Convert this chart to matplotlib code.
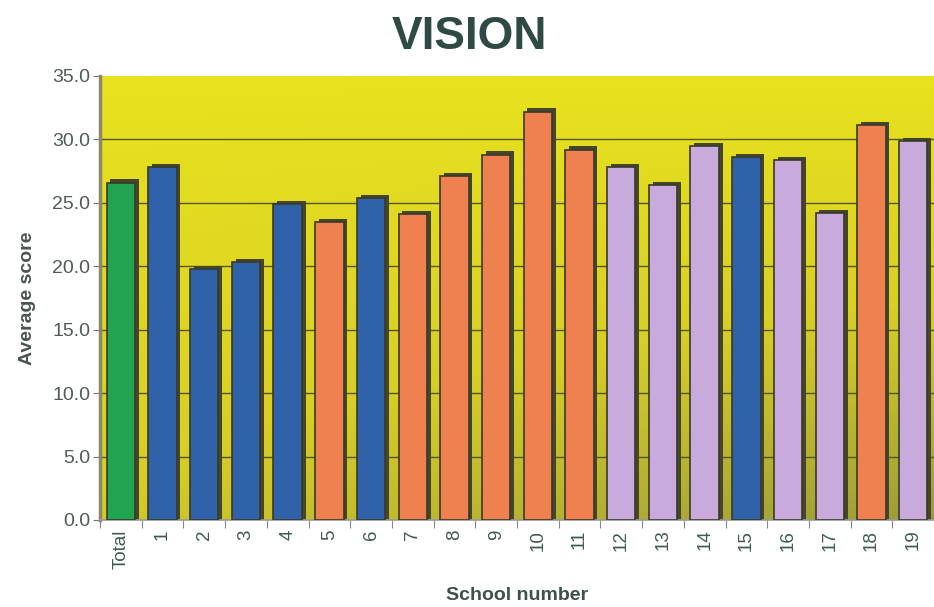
############################################################################################
import numpy as np
import matplotlib
matplotlib.use('Agg')
import matplotlib.pyplot as plt
from matplotlib.colors import LinearSegmentedColormap

############################################################################################
# Data
categories = ['Total', '1', '2', '3', '4', '5', '6', '7', '8', '9', '10',
              '11', '12', '13', '14', '15', '16', '17', '18', '19']
scores     = [26.6, 27.8, 19.8, 20.3, 24.9, 23.5, 25.4, 24.1, 27.1, 28.8, 32.2,
              29.2, 27.8, 26.4, 29.5, 28.6, 28.4, 24.2, 31.1, 29.9]
groups     = ['total', 'blue', 'blue', 'blue', 'blue', 'orange', 'blue', 'orange', 'orange', 'orange', 'orange',
              'orange', 'lilac', 'lilac', 'lilac', 'blue', 'lilac', 'lilac', 'orange', 'lilac']
y_ticks    = [0, 5, 10, 15, 20, 25, 30, 35]

group_colors = {'total': '#21a352', 'blue': '#2f62a8', 'orange': '#ef8150', 'lilac': '#c9aadc'}

############################################################################################
plt.rcParams['font.family'] = ['Liberation Sans', 'DejaVu Sans']
fig = plt.figure(figsize=(9.34, 6.07), dpi=100)
ax  = fig.add_axes([100/934, 87/607, 834/934, 444/607])

x = np.arange(len(categories))
ax.set_xlim(-0.5, len(categories) - 0.5)
ax.set_ylim(0, 35)

# yellow-to-olive background wall
gy, gx = np.mgrid[0:1:200j, 0:1:200j]
shade  = np.clip(0.55 * gy + 0.45 * gy * gx, 0, 1)
wall   = LinearSegmentedColormap.from_list('wall', ['#e9e21e', '#d8cf26', '#9c9c3a'])
ax.imshow(shade, cmap=wall, extent=[-0.5, len(categories) - 0.5, 0, 35], aspect='auto', zorder=0, origin='upper')

# gridlines
for t in y_ticks[1:-1]:
    ax.axhline(t, color='#55551c', lw=1.0, zorder=1)

# 3D-ish shadow then bars
ax.bar(x + 0.09, [s + 0.25 for s in scores], width=0.68, color='#45452c', zorder=2)
ax.bar(x, scores, width=0.68, color=[group_colors[g] for g in groups], edgecolor='#3a3a26', linewidth=1.2, zorder=3)

############################################################################################
# axes styling
for side in ['top', 'right']:
    ax.spines[side].set_visible(False)
ax.spines['left'].set_color('#8a8a6a')
ax.spines['left'].set_linewidth(2.5)
ax.spines['bottom'].set_color('#9a9a9a')
ax.spines['bottom'].set_linewidth(1.2)

ax.set_yticks(y_ticks)
ax.set_yticklabels([f'{t:.1f}' for t in y_ticks], fontsize=14, color='#505a58')
ax.tick_params(axis='y', length=5, color='#777777', pad=2)

ax.set_xticks(np.arange(-0.5, len(categories), 1.0))
ax.set_xticklabels([])
ax.tick_params(axis='x', which='major', length=6, color='#888888')
ax.set_xticks(x, minor=True)
ax.set_xticklabels(categories, minor=True, rotation=90, fontsize=13.5, color='#3f5a50')
ax.tick_params(axis='x', which='minor', length=0, pad=7)

ax.set_ylabel('Average score', fontsize=14, fontweight='bold', color='#4a5550', labelpad=12)

# axis title and chart title placed in figure pixels
fig.text(517/934, 1 - 596/607, 'School number', ha='center', va='center', fontsize=14, fontweight='bold', color='#3f5048')
fig.text(0.503, 1 - 37/607, 'VISION', ha='center', va='center', fontsize=33, fontweight='bold', color='#2f4a44')

############################################################################################
fig.savefig('out.png', dpi=100)
